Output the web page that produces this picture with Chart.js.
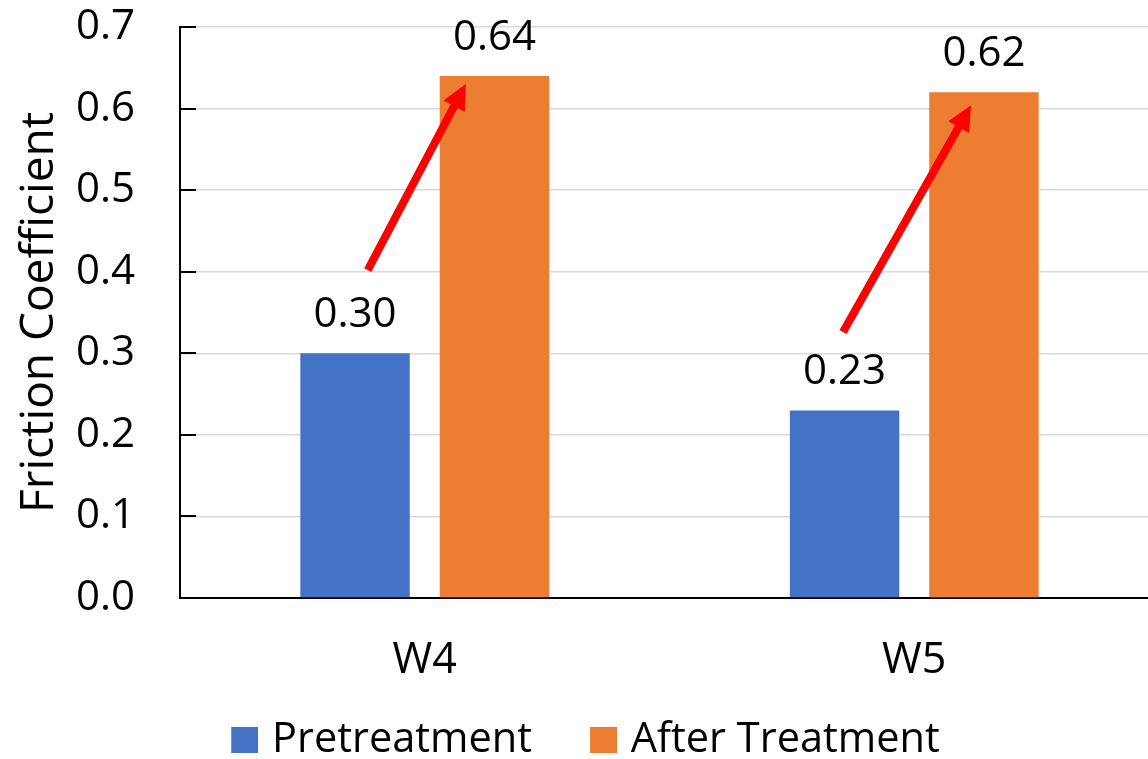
<!DOCTYPE html>
<html>
<head>
<meta charset="utf-8">
<script src="https://cdn.jsdelivr.net/npm/chart.js@4.4.1/dist/chart.umd.min.js"></script>
<style>
  html, body { margin: 0; padding: 0; overflow: hidden; background: #fff; width: 1148px; height: 759px; }
  canvas { position: absolute; left: 0; top: 0; }
</style>
</head>
<body>
<canvas id="chart" width="1172" height="759"></canvas>
<script>
// Friction coefficient before and after treatment
const categories = ['W4', 'W5'];
const seriesNames = ['Pretreatment', 'After Treatment'];
const seriesColors = ['#4472C4', '#ED7D31'];
const pretreatment = [0.30, 0.23];
const afterTreatment = [0.64, 0.62];
const yTickValues = [0, 0.1, 0.2, 0.3, 0.4, 0.5, 0.6, 0.7];

// Red arrows (category index offset, value) from tail to head
const arrowTails = [{ x: -0.1165, y: 0.402 }, { x: 0.8545, y: 0.326 }];
const arrowHeads = [{ x: 0.0838, y: 0.630 }, { x: 1.116, y: 0.604 }];

const FONT = '"Open Sans", "Noto Sans", sans-serif';

// Legend swatch: a square sitting close to its label text
function legendSwatch(color) {
  const c = document.createElement('canvas');
  c.width = 41;
  c.height = 26;
  const g = c.getContext('2d');
  g.fillStyle = color;
  g.fillRect(14, 0, 27, 26);
  return c;
}
const swatches = seriesColors.map(legendSwatch);

// Fixed-height legend band at the bottom, items nudged upward
const legendBand = {
  id: 'legendBand',
  afterInit(chart) {
    const legend = chart.legend;
    const fit = legend.fit;
    legend.fit = function () {
      fit.call(this);
      this.height = 83;
    };
    legend.draw = function () {
      if (!this.options.display) return;
      const ctx = this.ctx;
      ctx.save();
      ctx.translate(0, -7.5);
      this._draw();
      ctx.restore();
    };
  }
};

// Short tick marks drawn inward from the value axis
const innerTicks = {
  id: 'innerTicks',
  afterDraw(chart) {
    const { ctx, chartArea, scales: { y } } = chart;
    ctx.save();
    ctx.strokeStyle = '#000';
    ctx.lineWidth = 2;
    yTickValues.forEach(v => {
      const py = Math.round(y.getPixelForValue(v));
      ctx.beginPath();
      ctx.moveTo(chartArea.left, py);
      ctx.lineTo(chartArea.left + 16, py);
      ctx.stroke();
    });
    ctx.restore();
  }
};

// Value labels above each bar
const valueLabels = {
  id: 'valueLabels',
  afterDatasetsDraw(chart) {
    const { ctx } = chart;
    ctx.save();
    ctx.font = '42px ' + FONT;
    ctx.fillStyle = '#000';
    ctx.textAlign = 'center';
    ctx.textBaseline = 'alphabetic';
    chart.data.datasets.forEach((ds, i) => {
      chart.getDatasetMeta(i).data.forEach((bar, j) => {
        ctx.fillText(ds.data[j].toFixed(2), bar.x, bar.y - 26);
      });
    });
    ctx.restore();
  }
};

// Arrows showing the increase
const arrows = {
  id: 'arrows',
  afterDraw(chart) {
    const { ctx, scales: { x, y } } = chart;
    ctx.save();
    ctx.strokeStyle = '#FF0000';
    ctx.fillStyle = '#FF0000';
    ctx.lineWidth = 8;
    arrowTails.forEach((t, i) => {
      const h = arrowHeads[i];
      const x1 = x.getPixelForValue(t.x), y1 = y.getPixelForValue(t.y);
      const x2 = x.getPixelForValue(h.x), y2 = y.getPixelForValue(h.y);
      const ang = Math.atan2(y2 - y1, x2 - x1);
      const headLen = 25, headHalf = 12;
      const bx = x2 - headLen * Math.cos(ang), by = y2 - headLen * Math.sin(ang);
      ctx.beginPath();
      ctx.moveTo(x1, y1);
      ctx.lineTo(bx + 2 * Math.cos(ang), by + 2 * Math.sin(ang));
      ctx.stroke();
      ctx.beginPath();
      ctx.moveTo(x2, y2);
      ctx.lineTo(bx + headHalf * Math.sin(ang), by - headHalf * Math.cos(ang));
      ctx.lineTo(bx - headHalf * Math.sin(ang), by + headHalf * Math.cos(ang));
      ctx.closePath();
      ctx.fill();
    });
    ctx.restore();
  }
};

new Chart(document.getElementById('chart'), {
  type: 'bar',
  data: {
    labels: categories,
    datasets: [
      { label: seriesNames[0], data: pretreatment, backgroundColor: seriesColors[0] },
      { label: seriesNames[1], data: afterTreatment, backgroundColor: seriesColors[1] }
    ]
  },
  options: {
    responsive: false,
    animation: false,
    maintainAspectRatio: false,
    categoryPercentage: 0.5695,
    barPercentage: 0.785,
    layout: { padding: { left: 5, right: 13, top: 27, bottom: 0 } },
    plugins: {
      legend: {
        position: 'bottom',
        labels: {
          font: { family: FONT, size: 41.5 },
          color: '#000',
          boxWidth: 27,
          boxHeight: 26,
          padding: 51,
          usePointStyle: true,
          generateLabels(chart) {
            const items = Chart.defaults.plugins.legend.labels.generateLabels(chart);
            items.forEach((it, i) => { it.pointStyle = swatches[i]; });
            return items;
          }
        }
      },
      tooltip: { enabled: false }
    },
    scales: {
      x: {
        grid: { display: false },
        border: { color: '#000', width: 2 },
        afterFit(scale) {
          scale.height = 78;
          scale.paddingLeft = 0;
          scale.paddingRight = 0;
        },
        ticks: { font: { family: FONT, size: 43 }, color: '#000', padding: 29 }
      },
      y: {
        min: 0,
        max: 0.7,
        afterBuildTicks(scale) { scale.ticks = yTickValues.map(v => ({ value: v })); },
        afterFit(scale) {
          scale.width = 175;
          scale.paddingTop = 0;
          scale.paddingBottom = 0;
        },
        grid: { color: '#d9d9d9', lineWidth: 1.5, drawTicks: false },
        border: { color: '#000', width: 2 },
        ticks: {
          font: { family: FONT, size: 42 },
          color: '#000',
          padding: 45,
          callback: v => Number(v).toFixed(1)
        },
        title: {
          display: true,
          text: 'Friction Coefficient',
          font: { family: FONT, size: 46 },
          color: '#000',
          padding: { top: 7, bottom: 8 }
        }
      }
    }
  },
  plugins: [legendBand, innerTicks, valueLabels, arrows]
});
</script>
</body>
</html>
